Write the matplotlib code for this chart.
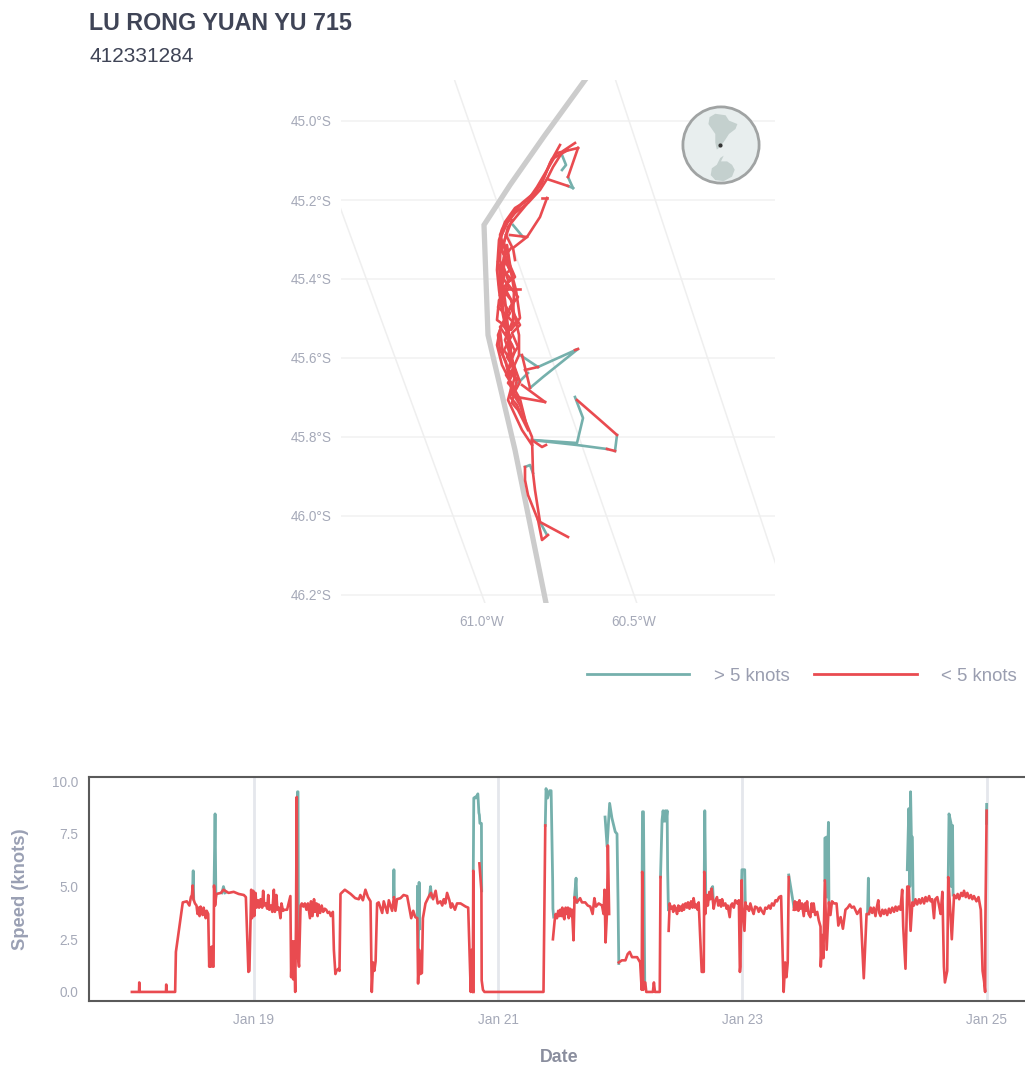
import matplotlib
matplotlib.use('Agg')
from matplotlib import pyplot as plt
from matplotlib.lines import Line2D

plt.rcParams['font.family'] = ['Liberation Sans', 'DejaVu Sans']

TEAL = '#75b0ac'
RED = '#e94b50'
W, H = 1025, 1067
GAP = float('nan')

# map values are projected map units (east, north), origin at 61.0W / 46.2S
boundary_e = [103, 63, 28, 2, 6, 33, 64]
boundary_n = [515, 460, 410, 370, 260, 145, -8]

red_tracks = [
    [(93,452),(81,444),(71,428),(65,416),(58,405),(46,392),(33,382),(21,367),(17,355),(16,340),(15,325),(17,305),
     (19,290),(22,275),(16,260),(18,245),(24,233),(27,217),(30,203),(38,190),(43,175),(50,158),(51,122),(53,105),
     (58,73),(86,58)],
    [(96,447),(75,442),(65,425),(55,408),(46,395),(33,387),(23,373),(18,360),(23,345),(21,330),(26,315),(23,300),
     (17,295),(15,275),(29,265),(38,277),(34,305),(30,320),(23,335),(18,330),(17,310),(29,295),(37,260),(37,240),
     (28,220),(21,240),(18,265),(15,250),(20,230),(30,210),(26,195),(33,180),(40,165),(50,150)],
    [(16,333),(23,295),(28,250),(33,215),(28,245),(21,285),(18,320),(25,350),(32,305),(31,275),(23,255),(30,235),
     (38,213),(31,200)],
    [(20,365),(18,350),(24,335),(19,320),(27,308),(20,295),(28,282),(21,270),(29,258),(22,245),(30,232),(24,220),
     (32,208),(28,198),(35,190),(40,178)],
    [(24,360),(30,348),(22,338),(28,325),(17,315),(24,303),(16,288),(26,278),(18,268),(30,250),(25,238),(33,225),
     (26,212),(34,203),(38,196),(44,172)],
    [(30,375),(25,362),(19,345),(27,332),(33,318),(25,312),(36,298),(28,288),(38,270),(30,262),(36,248),(29,238),
     (34,222),(29,205),(37,195)],
    [(44,390),(34,378),(26,368),(22,352),(26,340),(20,326),(29,316),(22,308),(31,292),(24,280),(32,272),(24,262),
     (33,244),(26,226),(35,216),(30,192),(36,185),(46,165)],
    [(86,445),(70,436),(62,418),(52,402),(40,392),(28,378),(20,362)],
    [(78,450),(68,432),(60,412),(50,398),(36,388),(25,372),(19,358),(18,335),(22,318),(18,300)],
    [(65,416),(86,409)],
    [(96,447),(86,418)],
    [(65,397),(60,397)],
    [(65,397),(58,378),(45,358),(28,360)],
    [(45,358),(31,347),(33,335)],
    [(22,306),(38,306)],
    [(56,228),(43,225)],
    [(48,207),(40,240)],
    [(96,246),(93,245)],
    [(63,193),(35,198)],
    [(63,193),(40,210)],
    [(125,146),(133,144)],
    [(135,160),(118,175),(95,195)],
    [(50,155),(60,148),(64,150)],
    [(43,128),(43,115),(46,100),(56,75)],
    [(56,75),(60,55),(66,60)],
]
teal_tracks = [
    [(86,409),(91,407)],
    [(86,418),(91,407)],
    [(80,440),(84,430),(80,425)],
    [(31,370),(41,358)],
    [(38,240),(56,228)],
    [(48,207),(61,218),(96,246),(56,228)],
    [(36,212),(46,222)],
    [(93,198),(101,177),(95,152),(50,155)],
    [(50,155),(95,150),(125,146)],
    [(133,144),(135,160)],
    [(43,128),(48,130),(51,122)],
    [(58,73),(65,60)],
]

lat_labels = ['45.0°S', '45.2°S', '45.4°S', '45.6°S', '45.8°S', '46.0°S', '46.2°S']
lat_values = [45.0, 45.2, 45.4, 45.6, 45.8, 46.0, 46.2]
lon_values = [-61.0, -60.5, -60.0, -59.5]
lon_labels = ['61.0°W', '60.5°W']

# inset globe, unit disc
south_america = [(-.30,.73),(-.15,.82),(.12,.78),(.21,.64),(.43,.55),(.38,.42),(.21,.29),(.12,.15),(.03,.02),
                 (-.04,-.07),(-.11,-.12),(-.15,.06),(-.15,.29),(-.24,.42),(-.33,.55)]
antarctica = [(-.24,-.61),(-.11,-.52),(-.02,-.34),(.07,-.28),(0,-.43),(.16,-.43),(.29,-.52),(.36,-.65),(.29,-.83),
              (.07,-.95),(-.15,-.92),(-.27,-.79)]

# speed series, hours since Jan 18 00:00
red_pts = [
    (0,0),(1.4,0),(1.45,.45),(1.5,0),(6.7,0),(6.75,.35),(6.8,0),(8.5,0),(8.65,1.9),(10,4.25),(10.8,4.3),(11.3,4.1),
    (11.6,4.5),(11.8,4.6),(11.95,5.05),(12.1,4.4),(12.4,4.2),(12.7,4.1),(12.9,3.7),(13.1,4),(13.3,3.6),(13.5,4.05),
    (13.7,3.8),(13.9,3.65),(14.1,4),(14.3,3.75),(14.5,3.5),(14.7,3.85),(15,3.7),(15.2,1.2),(15.35,2.1),(15.5,1.2),
    (15.7,2.15),(15.9,1.2),(16.05,1.2),(16.15,5.05),(16.35,4.1),(16.6,4.65),(17.5,4.7),(18,4.85),(19,4.7),(20,4.75),
    (21,4.65),(22,4.6),(22.4,4.5),(22.9,.95),(23.1,1),(23.45,4.85),(23.6,3.5),(23.85,4.8),(24.05,3.6),(24.3,4.7),
    (24.5,4),(24.8,4.35),(25,4),(25.3,4.4),(25.6,4),(25.8,4.8),(26,4.1),(26.3,4.2),(26.6,3.95),(26.8,4.6),(27,3.9),
    (27.3,4.1),(27.6,3.8),(27.9,4.85),(28.1,3.8),(28.4,4.6),(28.6,3.9),(28.9,4),(29.2,3.5),(29.4,4.2),(29.7,3.85),
    (30,3.9),(30.5,3.9),(31.15,4.55),(31.3,.7),(31.5,2.4),(31.7,.6),(31.85,2.4),(32.1,0),(32.25,3.1),(32.4,9.25),
    (32.5,2),(32.85,1.2),(33.15,4.1),(33.4,4.2),(33.7,4.05),(34,4.2),(34.3,3.9),(34.6,4.2),(35,3.5),(35.2,4.3),
    (35.5,3.6),(35.8,4.4),(36,3.8),(36.3,4.2),(36.5,3.6),(36.7,4.15),(37,3.75),(37.3,4.1),(37.6,3.8),(37.9,3.95),
    (38.2,3.9),(38.5,3.75),(38.8,3.8),(39.1,3.6),(39.3,3.7),(39.5,3.8),(39.7,2),(40,.85),(40.2,1),(40.6,1.1),
    (40.8,1),(41,4.65),(41.2,4.7),(41.85,4.85),(43,4.65),(43.9,4.45),(44.6,4.4),(44.9,4.6),(45.4,4.35),(45.9,4.85),
    (46.4,4.5),(46.9,4.3),(47.15,0),(47.4,1.4),(47.65,1),(47.9,1.45),(48.2,4.2),(48.5,4.25),(49.2,3.75),(49.5,4.3),
    (50.2,3.75),(50.5,4.35),(51.15,3.85),(51.5,4.5),(51.8,3.85),(52.1,4.4),(52.8,4.45),(53.4,4.6),(54.1,4.55),
    (54.6,3.9),(54.9,3.5),(55.3,3.85),(55.7,3.55),(56.1,3.5),(56.25,.4),(56.45,2),(56.7,.85),(57,.9),(57.2,3.5),
    (57.7,4.2),(58.4,4.55),(58.8,4.7),(59.2,4.4),(59.7,4.8),(60.1,4.2),(60.65,4.3),(61,4.1),(61.3,4.4),(61.6,4.2),
    (61.95,4.7),(62.4,4.35),(62.7,4),(62.95,4.2),(63.5,3.9),(63.9,4.2),(64.6,4.2),(65.6,4.05),(66.1,4),(66.4,1.5),
    (66.6,0),(66.8,2),(67,0),(67.1,5.75),(67.15,0),(67.2,GAP),(68.3,6.1),(68.7,4.8),(68.75,.55),(69,.1),(69.3,0),
    (80.9,0),(81.25,7.9),(81.3,GAP),(82.75,2.5),
    (83.1,3.4),(83.3,3.7),(83.55,3.5),(83.8,3.85),(84,3.6),(84.2,3.9),(84.4,3.6),(84.6,4),(84.8,3.6),(85,3.45),
    (85.25,4),(85.5,3.7),(85.7,4),(85.85,3.5),(86.1,3.95),(86.3,3.6),(86.5,3.9),
    (86.8,2.45),(87,4.5),(87.45,4.25),(88.1,4.45),(88.45,4.25),(89.1,4.25),(89.6,4.1),(90.1,4.05),(90.55,3.7),(90.9,4.45),
    (91.2,4.05),(91.75,4.2),(92.4,4.1),(92.7,3.7),(92.9,4.85),(93.1,2.35),(93.4,3.9),(93.55,6.95),(93.8,3.7),(93.9,GAP),
    (95.7,1.4),(96.3,1.5),(97,1.5),(97.45,1.8),(97.85,1.9),(98.3,1.65),(99.3,1.65),(99.9,1.4),(100.2,.1),(100.3,5.7),
    (100.5,.1),(100.9,.45),(101.1,0),(102.4,0),(102.6,.45),(102.8,0),(103.75,0),(103.9,5.45),(104,GAP),(105.5,2.9),
    (105.7,4.2),(105.9,3.95),(106.2,4.05),(106.4,3.8),(106.6,4.1),(106.9,3.95),(107.15,3.7),(107.4,4.1),(107.6,3.85),
    (107.8,4.05),(108.1,3.85),(108.3,4.15),(108.5,3.9),(108.8,4.2),(109.1,4),(109.3,4.25),(109.6,3.95),(109.9,4.3),
    (110.2,4),(110.4,4.45),(110.7,4),(110.95,4.15),(111.2,3.9),(111.4,4.25),
    (111.75,2.3),(112,.95),(112.4,.95),(112.5,5.7),(112.7,3.7),
    (113,4.6),(113.2,4.1),(113.5,4.75),(113.7,4.4),(113.95,4.9),(114.15,4.4),(114.35,3.95),(114.6,4.3),(115,4.5),
    (115.25,4.1),(115.55,4.35),(115.8,4.05),(116,4.4),(116.3,4.1),(116.65,4.2),(116.9,3.95),(117.1,4.1),(117.5,3.55),
    (117.7,4.1),(118,4.2),(118.3,4),(118.6,4.35),(119,4.2),(119.3,4.35),
    (119.5,.95),(119.6,1.2),(119.85,5.3),(119.95,4.2),(120.4,2.9),
    (120.6,4.25),(120.8,3.95),(121,4.05),(121.3,3.85),(121.55,4.2),(121.9,3.9),(122.2,3.7),(122.5,4.05),(122.9,4),
    (123.2,3.8),(123.5,4),(123.8,3.85),(124.2,3.7),(124.5,4),(124.85,3.95),(125.2,4.1),(125.5,3.95),(125.8,4.2),
    (126.15,4.1),(126.5,4.35),(126.8,4.3),(127.2,4.5),(127.6,4.55),
    (127.8,2.75),(128.1,0),(128.4,1.4),(128.65,.7),(128.9,1.4),(129.1,5.45),(129.2,GAP),
    (130.1,3.9),(130.3,4.3),(130.5,3.9),(130.75,4.25),(131,3.85),(131.2,4.35),(131.4,3.95),(131.7,4.2),(132.05,3.6),
    (132.3,4.2),(132.5,3.85),(132.7,4.3),(133,3.7),(133.35,3.55),(133.6,4.2),(133.8,3.8),(134,4.2),(134.3,3.65),
    (134.7,3.8),(135,3.4),(135.35,3.1),
    (135.4,1.2),(135.7,2.7),(135.9,1.6),(136.2,5.3),(136.55,2),(137,4.25),(137.3,3.65),(137.6,4.3),(138,4.2),(138.5,4.2),
    (138.85,3.15),(139.3,3.55),(139.75,3),(140.25,3.9),(140.7,4),(141.1,4.15),(141.5,4),(141.9,4.05),(142.55,3.7),
    (143.2,3.95),(143.85,.65),(144.4,3.7),
    (144.85,3.7),(145.2,4),(145.5,3.75),(145.8,4),(146.15,3.6),(146.4,4),(146.7,4.35),(146.9,3.75),(147.15,3.6),
    (147.5,3.9),(147.8,3.7),(148.1,3.9),(148.45,3.65),(148.8,3.95),(149.1,3.75),(149.45,4),(149.8,3.8),(150.1,4.05),
    (150.4,3.85),(150.7,4.05),(151.05,3.9),
    (151.4,4.85),(151.6,3.1),(152.05,1.1),(152.4,5),(152.7,5),(153.05,2.9),
    (153.4,4.25),(153.7,4.1),(154,4.4),(154.35,4.15),(154.7,4.4),(155,4.2),(155.35,4.45),(155.7,4.2),(156,4.5),
    (156.3,4.3),(156.7,4.55),(157,4.3),(157.3,4.4),(157.65,3.5),(157.9,4.4),(158.3,4.5),(158.6,4.15),(158.95,3.7),(159.3,4.75),
    (159.6,1.2),(159.8,.45),(160.25,1),(160.45,5.45),(160.8,4.05),(161.15,2.5),
    (161.6,4.6),(162,4.45),(162.3,4.65),(162.6,4.4),(163,4.7),(163.3,4.55),(163.55,4.8),(163.9,4.5),(164.2,4.7),
    (164.55,4.45),(164.9,4.6),(165.2,4.4),(165.5,4.55),(166,4.3),(166.4,4.5),
    (166.85,3.9),(167.2,1),(167.5,.5),(167.7,0),(167.75,3.25),(168,8.6),
]
teal_pts = [
    [(11.95,5),(12.05,5.75),(12.15,4.4)],
    [(16.15,5),(16.35,8.45),(16.5,4.6)],
    [(17.7,4.7),(18,5),(18.3,4.7)],
    [(32.35,5),(32.55,9.5),(32.65,9.5),(32.75,2)],
    [(51.4,4.5),(51.5,5.8),(51.6,4.3)],
    [(56.1,3.5),(56.12,5)],
    [(56.3,2),(56.45,5.2),(56.6,3)],
    [(58.5,4.6),(58.7,5),(58.9,4.5)],
    [(67.1,5.75),(67.2,9.2),(67.5,9.25),(67.6,9.2),(68,9.4),(68.2,8.5),(68.3,8.4),(68.4,8),(68.7,8),(68.75,4.8)],
    [(81.25,7.9),(81.4,9.65),(81.7,9.2),(82.1,9.55),(82.4,9.55),(82.7,5.3),(82.75,3.95),(82.9,3.55)],
    [(87,4.5),(87.3,5.4),(87.45,4.25)],
    [(93,8.3),(93.4,6.9),(93.9,8.95),(94.35,8.25),(95,7.6),(95.35,7.5),(95.55,4.3),(95.7,1.35)],
    [(100.3,5.7),(100.35,8.55),(100.55,8.55),(100.8,.4)],
    [(103.9,5.45),(104.2,8.15),(104.4,8.6),(104.6,8.1),(104.85,8.6),(105,8.1),(105.2,8.6),(105.3,5.8),(105.45,3.9)],
    [(112.5,5.7),(112.6,8.6),(112.8,4.4)],
    [(113.9,4.9),(114.15,5),(114.3,4.2)],
    [(119.85,5.3),(119.9,5.8),(120.45,5.8),(120.55,4.3)],
    [(129.1,5.55),(130.1,4.05)],
    [(136.2,5.3),(136.2,7.3),(136.55,7.35),(136.6,4.5),(136.9,8.05),(137,4.3)],
    [(144.6,3.8),(144.75,5.4),(144.85,3.7)],
    [(152.4,5.8),(152.7,8.7),(152.9,5),(153.05,9.5),(153.2,7.4),(153.4,7.35),(153.55,4.3)],
    [(160.45,5.45),(160.6,8.45),(161,8),(161.05,5),(161.3,7.9),(161.4,4.6)],
    [(167.95,8),(168,8.9)],
]

day_ticks = [24, 72, 120, 168]
day_labels = ['Jan 19', 'Jan 21', 'Jan 23', 'Jan 25']
speed_ticks = [0, 2.5, 5, 7.5, 10]


def rect(x0, y0, x1, y1):
    # pixel box, y from the top, to figure fractions
    return [x0 / W, 1 - y1 / H, (x1 - x0) / W, (y1 - y0) / H]


def north(lat):
    return (46.2 - lat) * 395


def east(lon, n):
    d = lon + 61
    return d * 304 - (0.366 - 0.035 * d) * n


fig = plt.figure(figsize=(W / 100, H / 100), dpi=100, facecolor='white')

fig.text(89 / W, 1 - 23 / H, 'LU RONG YUAN YU 715', fontsize=16.75, fontweight='bold', color='#3f4456', va='center')
fig.text(89 / W, 1 - 56 / H, '412331284', fontsize=15, color='#3f4456', va='center')

# map
ax = fig.add_axes(rect(341, 80, 775, 603))
ax.set_xlim(-141, 293)
ax.set_ylim(-8, 515)
for s in ax.spines.values():
    s.set_visible(False)
for lat in lat_values:
    ax.axhline(north(lat), color='#f1f1f1', lw=1.1, zorder=1)
for lon in lon_values:
    ax.plot([east(lon, -8), east(lon, 515)], [-8, 515], color='#efefef', lw=1.1, zorder=1)
ax.plot(boundary_e, boundary_n, color='#cccccc', lw=3.8, zorder=2, solid_joinstyle='miter')
for t in teal_tracks:
    ax.plot([p[0] for p in t], [p[1] for p in t], color=TEAL, lw=1.9, zorder=3)
for t in red_tracks:
    ax.plot([p[0] for p in t], [p[1] for p in t], color=RED, lw=1.9, zorder=4)
ax.set_yticks([north(v) for v in lat_values], lat_labels)
ax.set_xticks([east(-61.0, 0), east(-60.5, 0)], lon_labels)
ax.tick_params(axis='y', length=0, labelsize=9.8, labelcolor='#a5a9b8', pad=7)
ax.tick_params(axis='x', length=0, labelsize=9.8, labelcolor='#a5a9b8', pad=9)

# globe
gax = fig.add_axes(rect(681, 105, 761, 185))
gax.set_xlim(-1.05, 1.05)
gax.set_ylim(-1.05, 1.05)
gax.axis('off')
gax.add_patch(plt.Circle((0, 0), 1, facecolor='#e8eeee', edgecolor='#a0a3a3', lw=2))
gax.add_patch(plt.Polygon(south_america, facecolor='#c4d0ce', edgecolor='none'))
gax.add_patch(plt.Polygon(antarctica, facecolor='#c4d0ce', edgecolor='none'))
gax.plot([-0.02], [0.0], marker='o', ms=2, color='#333333')

# legend
handles = [Line2D([], [], color=TEAL, lw=2), Line2D([], [], color=RED, lw=2)]
fig.legend(handles, ['> 5 knots', '< 5 knots'], ncol=2, frameon=False, fontsize=13.4, labelcolor='#9a9eb0',
           handlelength=5.5, handletextpad=1.32, columnspacing=1.33, borderpad=0, borderaxespad=0,
           loc='center right', bbox_to_anchor=(1017 / W, 1 - 676 / H))

# speed
ax2 = fig.add_axes(rect(89, 777, 1036, 1001))
ax2.set_xlim(-8.43, 177.7)
ax2.set_ylim(-0.43, 10.2)
for s in ax2.spines.values():
    s.set_color('#5a5a5a')
    s.set_linewidth(1.5)
for d in day_ticks:
    ax2.axvline(d, color='#e5e7ec', lw=2, zorder=1)
for t in teal_pts:
    ax2.plot([p[0] for p in t], [p[1] for p in t], color=TEAL, lw=2, zorder=2)
ax2.plot([p[0] for p in red_pts], [p[1] for p in red_pts], color=RED, lw=1.9, zorder=3)
ax2.set_xticks(day_ticks, day_labels)
ax2.set_yticks(speed_ticks, ['0.0', '2.5', '5.0', '7.5', '10.0'])
ax2.tick_params(axis='y', length=0, labelsize=9.8, labelcolor='#a5a9b8', pad=8)
ax2.tick_params(axis='x', length=0, labelsize=9.8, labelcolor='#a5a9b8', pad=9)
fig.text(559 / W, 1 - 1058 / H, 'Date', fontsize=12.8, fontweight='bold', color='#8a8e9e', ha='center', va='center')
fig.text(21 / W, 1 - 889 / H, 'Speed (knots)', fontsize=13.2, fontweight='bold', color='#9aa0b4', rotation=90,
         ha='center', va='center')

plt.savefig('out.png', dpi=100)
